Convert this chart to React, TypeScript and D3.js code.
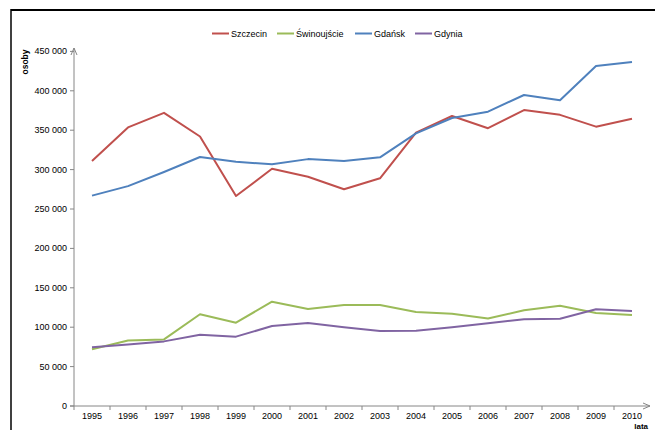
import React from "react";
import * as d3 from "d3";

const years = ["1995","1996","1997","1998","1999","2000","2001","2002","2003","2004","2005","2006","2007","2008","2009","2010"];
const szczecin = [311000,353500,372000,342000,266500,301000,291000,275000,289000,347000,368000,352500,375500,369500,354500,364500];
const swinoujscie = [72000,83000,84500,116500,105700,132400,123000,128300,128300,119300,117000,111000,121500,127300,118000,115500];
const gdansk = [267000,279000,297000,316000,310000,306700,313300,311000,315600,346000,365500,373500,394700,388000,431500,436500];
const gdynia = [74500,78000,82000,90500,88000,101500,105300,99800,95200,95500,100000,105000,110000,110800,122700,120500];
const seriesNames = ["Szczecin","Świnoujście","Gdańsk","Gdynia"];
const seriesColors = ["#C0504D","#9BBB59","#4F81BD","#8064A2"];
const yTicks = [0,50000,100000,150000,200000,250000,300000,350000,400000,450000];

const W = 655, H = 430;
const x0 = 74, yBase = 406, catW = 36;

export default function App() {
  const y = d3.scaleLinear().domain([0, 450000]).range([yBase, 51.4]);
  const x = d3.scaleBand().domain(years).range([x0, x0 + catW * years.length]);
  const data = [szczecin, swinoujscie, gdansk, gdynia];
  const line = d3.line<number>().x((_, i) => (x(years[i]) as number) + x.bandwidth() / 2).y(v => y(v));
  const fmt = (v: number) => v === 0 ? "0" : d3.format(",")(v).replace(/,/g, " ");
  const font = "'Liberation Sans', Arial, sans-serif";
  const axisColor = "#868686";
  const legendX = [212, 277, 355, 415];
  return (
    <svg width={W} height={H} style={{ position: "absolute", left: 0, top: 0, background: "#fff" }} fontFamily={font}>
      <rect x={0} y={0} width={W} height={H} fill="#fff" />
      <line x1={11} y1={10} x2={W} y2={10} stroke="#000" strokeWidth={2} />
      <line x1={11} y1={9} x2={11} y2={H} stroke="#000" strokeWidth={1.5} />
      {/* legend */}
      {seriesNames.map((n, i) => (
        <g key={n}>
          <line x1={legendX[i]} x2={legendX[i] + 17} y1={33.5} y2={33.5} stroke={seriesColors[i]} strokeWidth={2} />
          <text x={legendX[i] + 19} y={36.5} fontSize={9} fill="#000">{n}</text>
        </g>
      ))}
      {/* y axis title */}
      <text transform="translate(28,62) rotate(-90)" textAnchor="middle" fontSize={8.5} fontWeight="bold">osoby</text>
      {/* y axis */}
      <line x1={x0} x2={x0} y1={yBase} y2={48} stroke={axisColor} strokeWidth={1} />
      <path d={`M${x0 - 3},${55} L${x0},${48} L${x0 + 3},${55}`} fill="none" stroke={axisColor} strokeWidth={1} />
      {yTicks.map(t => (
        <g key={t}>
          <line x1={x0 - 4} x2={x0} y1={y(t)} y2={y(t)} stroke={axisColor} />
          <text x={67} y={y(t) + 3} textAnchor="end" fontSize={9} fill="#000">{fmt(t)}</text>
        </g>
      ))}
      {/* x axis */}
      <line x1={x0 - 4} x2={650} y1={yBase} y2={yBase} stroke={axisColor} strokeWidth={1} />
      <path d={`M${643},${yBase - 3} L${650},${yBase} L${643},${yBase + 3}`} fill="none" stroke={axisColor} strokeWidth={1} />
      {years.map((yr, i) => (
        <g key={yr}>
          <line x1={x0 + i * catW} x2={x0 + i * catW} y1={yBase} y2={yBase + 4} stroke={axisColor} />
          <text x={(x(yr) as number) + x.bandwidth() / 2} y={419} textAnchor="middle" fontSize={9} fill="#000">{yr}</text>
        </g>
      ))}
      <text x={648} y={429} textAnchor="end" fontSize={8} fontWeight="bold">lata</text>
      {/* lines */}
      {data.map((d, i) => (
        <path key={i} d={line(d) || ""} fill="none" stroke={seriesColors[i]} strokeWidth={2} strokeLinejoin="round" />
      ))}
    </svg>
  );
}
